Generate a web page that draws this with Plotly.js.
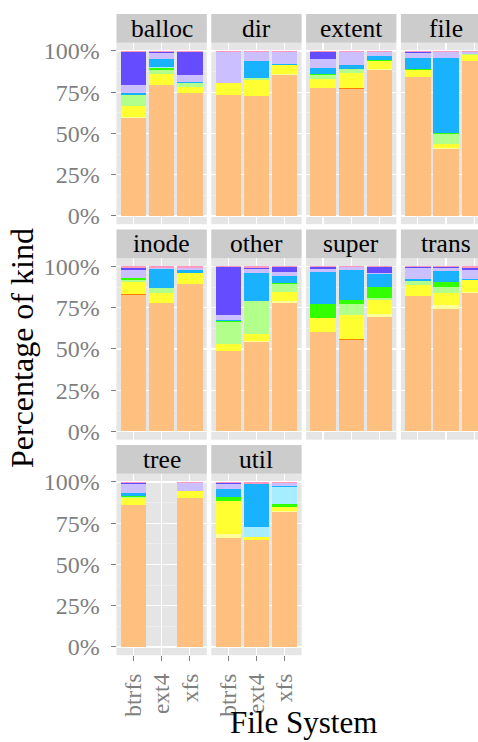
<!DOCTYPE html>
<html><head><meta charset="utf-8">
<script src="https://cdn.plot.ly/plotly-3.0.1.min.js"></script>
<style>html,body{margin:0;padding:0;overflow:hidden;background:#fff}#chart{width:500px;height:742px}</style>
</head><body><div id="chart"></div><script>
// ---- data ----
const fileSystems = ['btrfs', 'ext4', 'xfs'];
const facets = ['balloc', 'dir', 'extent', 'file', 'inode', 'other', 'super', 'trans', 'tree', 'util'];
const kinds = ['k01', 'k02', 'k03', 'k04', 'k05', 'k06', 'k07', 'k08', 'k09', 'k10', 'k11', 'k12'];
const kindColors = ['#FFBF7F', '#FF7F00', '#FFFF99', '#FFFF32', '#B2FF8C', '#32FF00',
                    '#A5EDFF', '#19B2FF', '#CCBFFF', '#654CFF', '#FF99BF', '#E51932'];
const yTickVals = [0, 25, 50, 75, 100];
const yTickText = ['0%', '25%', '50%', '75%', '100%'];
const yMinorVals = [12.5, 37.5, 62.5, 87.5];

// rows: btrfs, ext4, xfs ; columns follow kinds
const balloc = [
  [59.5, 0, 0.5, 6.5, 6.6, 0.3, 0, 1.0, 5.2, 19.8, 0.6, 0],
  [79.2, 0, 0.3, 6.8, 2.0, 1.6, 0.5, 4.8, 3.6, 0.8, 0.4, 0],
  [74.5, 0, 0.3, 3.2, 2.6, 0.2, 0, 0.4, 4.3, 13.9, 0.6, 0]];
const dir = [
  [73.1, 0, 0, 7.3, 0, 0, 0, 0, 19.2, 0, 0.4, 0],
  [72.5, 0, 0, 9.7, 1.6, 0, 0, 9.9, 5.9, 0, 0.4, 0],
  [85.5, 0, 0.4, 5.4, 0, 0, 0, 1.0, 7.3, 0, 0.4, 0]];
const extent = [
  [77.6, 0, 0, 5.2, 2.5, 0.6, 0, 3.6, 5.4, 4.3, 0.8, 0],
  [77.0, 0.6, 0, 8.9, 2.4, 0, 0, 2.4, 8.3, 0, 0.4, 0],
  [88.5, 0, 0.3, 5.1, 0, 0.6, 0, 2.3, 2.4, 0, 0.8, 0]];
const file = [
  [84.0, 0, 0, 4.3, 0, 0.5, 0, 6.8, 3.0, 0.8, 0.6, 0],
  [40.8, 0, 0.3, 2.7, 5.9, 0.3, 0, 45.6, 4.0, 0, 0.4, 0],
  [93.9, 0, 0.2, 3.3, 0.8, 0, 0, 0, 1.2, 0, 0.6, 0]];
const inode = [
  [82.8, 0.6, 0, 7.1, 1.4, 1.0, 0, 0.3, 4.8, 1.2, 0.8, 0],
  [78.0, 0, 0, 6.0, 2.7, 0, 0, 11.9, 0.6, 0, 0.8, 0],
  [89.5, 0, 0, 6.5, 0, 0, 0, 2.0, 0.8, 0, 1.2, 0]];
const other = [
  [48.9, 0, 0, 4.2, 13.0, 0.6, 0, 1.0, 3.0, 29.1, 0.2, 0],
  [54.5, 0, 0.4, 3.9, 20.4, 0, 0, 17.0, 2.2, 0.8, 0.8, 0],
  [78.0, 0, 1.2, 5.4, 4.7, 0.8, 0, 4.2, 2.5, 3.0, 0.2, 0]];
const superK = [
  [60.0, 0, 0, 8.7, 0, 8.7, 0, 19.0, 1.8, 1.6, 0.2, 0],
  [55.2, 0.6, 0, 14.5, 7.1, 2.4, 0, 18.2, 1.4, 0, 0.6, 0],
  [69.1, 0, 2.0, 8.3, 1.2, 6.7, 0, 8.3, 0.4, 3.6, 0.4, 0]];
const trans = [
  [81.8, 0, 0, 7.1, 2.4, 0, 0, 1.2, 6.7, 0.6, 0.2, 0],
  [74.3, 0, 2.3, 7.4, 3.7, 2.8, 0, 6.9, 1.8, 0.4, 0.4, 0],
  [84.2, 0, 0.4, 6.9, 0, 0, 0, 1.0, 5.5, 1.2, 0.8, 0]];
const tree = [
  [85.9, 0, 0.2, 4.0, 0.6, 0.8, 0, 1.8, 5.3, 1.0, 0.4, 0],
  [0, 0, 0, 0, 0, 0, 0, 0, 0, 0, 0, 0],
  [90.5, 0, 0, 4.2, 0, 0, 0, 0, 4.7, 0, 0.6, 0]];
const util = [
  [66.3, 0, 2.0, 20.4, 0, 2.4, 0, 4.9, 3.0, 0.6, 0.4, 0],
  [65.1, 0, 0, 1.4, 0, 0, 6.4, 26.1, 0, 0, 1.0, 0],
  [81.6, 0, 0.6, 2.9, 0, 1.8, 9.9, 0.6, 2.2, 0, 0.4, 0]];

const facetData = [balloc, dir, extent, file, inode, other, superK, trans, tree, util];

// ---- geometry ----
const W = 500, H = 742;
const colLeft = [116.5, 211.3, 306.1, 400.9];
const panelW = 90.3;
const stripTop = [14, 229.5, 445];
const stripH = 28.7;
const panelH = 181.5;
const FONT = 'Liberation Serif, Times New Roman, serif';
const bottomFacets = ['tree', 'util'];

const traces = [];
const layout = {
  width: W, height: H,
  margin: {l: 0, r: 0, t: 0, b: 0},
  paper_bgcolor: '#FFFFFF', plot_bgcolor: '#E5E5E5',
  barmode: 'stack', bargap: 0.1,
  showlegend: false,
  font: {family: FONT},
  shapes: [], annotations: []
};

facets.forEach((name, fi) => {
  const col = fi % 4, row = Math.floor(fi / 4);
  const sfx = fi === 0 ? '' : String(fi + 1);
  const pTop = stripTop[row] + stripH, pBot = pTop + panelH;
  const x0 = colLeft[col], x1 = x0 + panelW;
  const rows = facetData[fi];
  kinds.forEach((k, ki) => {
    traces.push({
      type: 'bar', name: k, x: fileSystems, y: rows.map(r => r[ki]),
      marker: {color: kindColors[ki], line: {width: 0}},
      xaxis: 'x' + sfx, yaxis: 'y' + sfx, hoverinfo: 'skip', showlegend: false
    });
  });
  const isBottom = bottomFacets.includes(name);
  layout['xaxis' + sfx] = {
    domain: [x0 / W, x1 / W], anchor: 'y' + sfx,
    type: 'category', categoryorder: 'array', categoryarray: fileSystems,
    range: [-0.6, 2.6], fixedrange: true,
    showgrid: true, gridcolor: '#FFFFFF', gridwidth: 1.1, zeroline: false, showline: false,
    ticks: isBottom ? 'outside' : '', ticklen: 5, tickwidth: 1, tickcolor: '#7F7F7F',
    showticklabels: isBottom, tickangle: -90, ticklabelstandoff: 3,
    tickfont: {family: FONT, size: 23.5, color: '#7F7F7F'}
  };
  layout['yaxis' + sfx] = {
    domain: [1 - pBot / H, 1 - pTop / H], anchor: 'x' + sfx,
    range: [-5, 105], fixedrange: true,
    tickmode: 'array', tickvals: yTickVals, ticktext: yTickText,
    showgrid: true, gridcolor: '#FFFFFF', gridwidth: 1.1, zeroline: false, showline: false,
    minor: {tickmode: 'array', tickvals: yMinorVals, showgrid: true, gridcolor: '#F2F2F2', gridwidth: 0.6, ticks: ''},
    ticks: col === 0 ? 'outside' : '', ticklen: 5, tickwidth: 1, tickcolor: '#7F7F7F',
    showticklabels: col === 0, ticklabelstandoff: 6,
    tickfont: {family: FONT, size: 24, color: '#7F7F7F'}
  };
  layout.shapes.push({
    type: 'rect', xref: 'paper', yref: 'paper', layer: 'below',
    x0: x0 / W, x1: x1 / W, y0: 1 - pTop / H, y1: 1 - stripTop[row] / H,
    fillcolor: '#CCCCCC', line: {width: 0}
  });
  layout.annotations.push({
    xref: 'paper', yref: 'paper', x: (x0 + x1) / 2 / W, y: 1 - (stripTop[row] + stripH / 2) / H,
    xanchor: 'center', yanchor: 'middle', showarrow: false, text: name,
    font: {family: FONT, size: 25.5, color: '#000000'}
  });
});

layout.annotations.push({
  xref: 'paper', yref: 'paper', x: 22 / W, y: 1 - 348 / H, textangle: -90,
  xanchor: 'center', yanchor: 'middle', showarrow: false, text: 'Percentage of kind',
  font: {family: FONT, size: 32, color: '#000000'}
});
layout.annotations.push({
  xref: 'paper', yref: 'paper', x: 303.7 / W, y: 1 - 722 / H,
  xanchor: 'center', yanchor: 'middle', showarrow: false, text: 'File System',
  font: {family: FONT, size: 31, color: '#000000'}
});

Plotly.newPlot('chart', traces, layout, {staticPlot: true, displayModeBar: false});
</script></body></html>
